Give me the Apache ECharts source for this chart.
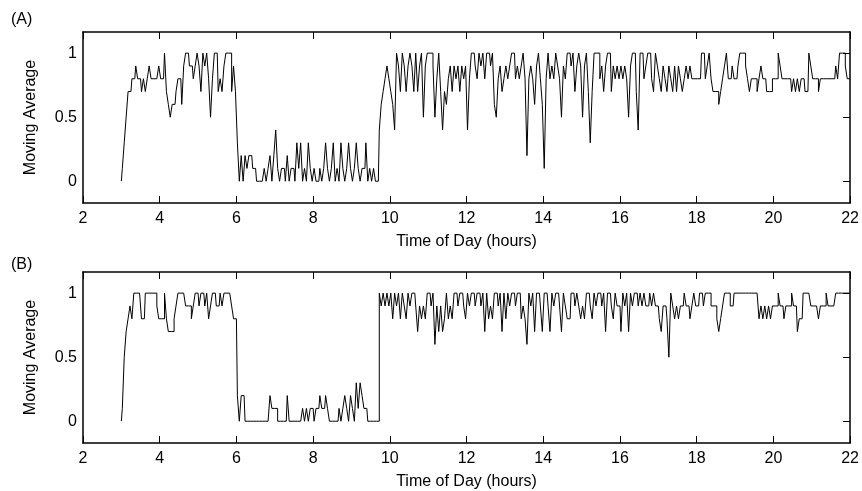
<!DOCTYPE html>
<html><head><meta charset="utf-8">
<script src="https://cdn.jsdelivr.net/npm/echarts@6/dist/echarts.min.js"></script>
<style>html,body{margin:0;padding:0;background:#fff}#c{width:862px;height:491px}</style>
</head><body><div id="c"></div>
<script>
// ---- data ----
const xTicks = [2, 4, 6, 8, 10, 12, 14, 16, 18, 20, 22];
const yTicks = [0, 0.5, 1];
const startHour = 3;      // first sample time (hours)
const stepHour = 0.05;    // sample spacing (hours)

// Panel (A) moving average, one value per 0.05 h from 3.00 to 22.00
const seriesA = [
  0,0.1,0.3,0.5,0.7,0.7,0.8,0.8,0.9,0.8,0.8,0.7,0.8,0.7,0.8,0.9,0.8,0.8,0.8,0.8,
  0.9,0.8,0.8,1.0,0.7,0.6,0.5,0.6,0.6,0.7,0.8,0.8,0.6,0.9,1.0,1.0,0.9,0.9,0.8,0.9,
  1.0,0.9,0.7,1.0,0.9,1.0,0.8,0.5,0.8,1.0,1.0,0.7,0.8,0.7,0.9,1.0,1.0,1.0,0.7,0.9,
  0.7,0.3,0,0.2,0,0.2,0.1,0.2,0.2,0.1,0.1,0,0,0,0,0.1,0,0.1,0.2,0,
  0.2,0.4,0.1,0,0.1,0.1,0,0.2,0,0.1,0.1,0,0.3,0.1,0.3,0,0.1,0,0.3,0.1,
  0,0.1,0,0,0.1,0,0.1,0.3,0.1,0,0.1,0.3,0,0.1,0,0.3,0.1,0,0.1,0.3,
  0.1,0,0.1,0.3,0.1,0,0.1,0.1,0.3,0,0.1,0,0.1,0,0,0.4,0.6,0.7,0.8,0.9,
  0.8,0.7,0.6,0.4,1.0,0.9,0.7,1.0,0.9,0.7,0.9,1.0,0.9,0.7,1.0,0.7,0.9,1.0,0.5,0.9,
  1.0,1.0,1.0,0.9,0.5,0.8,1.0,0.7,0.4,0.7,0.6,0.8,0.9,0.7,0.9,0.8,0.9,0.7,0.9,0.8,
  0.9,0.4,0.8,1.0,1.0,0.9,0.8,1.0,0.9,1.0,0.8,1.0,1.0,0.9,1.0,0.6,0.5,0.8,0.9,0.7,
  0.8,0.9,0.8,0.9,1.0,1.0,0.8,0.9,0.8,0.9,1.0,0.8,0.2,0.8,0.9,0.8,0.6,0.9,1.0,0.8,
  0.6,0.1,0.8,1.0,0.8,0.9,0.8,1.0,0.9,0.8,0.5,0.9,0.8,1.0,1.0,0.9,1.0,0.7,0.9,1.0,
  0.9,0.5,0.9,1.0,0.7,0.3,0.7,1.0,1.0,1.0,0.8,0.9,0.7,0.9,1.0,1.0,0.7,0.9,0.8,0.9,
  0.8,0.9,0.8,0.9,0.8,0.5,0.9,1.0,1.0,0.7,0.4,1.0,1.0,0.8,0.9,1.0,1.0,0.8,0.7,1.0,
  0.9,0.8,0.7,0.9,0.8,0.7,0.9,0.8,0.7,0.9,0.7,0.9,0.8,0.7,0.8,0.9,0.8,0.9,0.8,0.8,
  0.8,0.8,0.8,1.0,1.0,0.8,0.9,1.0,0.8,0.7,0.7,0.7,0.6,0.7,0.8,0.9,1.0,0.8,0.8,0.9,
  0.8,0.8,0.9,1.0,1.0,1.0,0.9,0.8,0.7,0.8,0.8,0.8,0.7,0.8,0.9,0.8,0.8,0.7,0.7,0.7,
  0.8,0.8,0.8,1.0,0.9,0.8,0.8,0.8,0.8,0.8,0.7,0.8,0.7,0.8,0.7,0.8,0.8,0.7,0.7,1.0,
  0.9,0.8,0.8,0.8,0.7,0.8,0.8,0.8,0.8,0.8,0.8,0.8,0.8,0.9,0.8,1.0,1.0,1.0,0.9,0.8,
  0.8
];

// Panel (B) moving average, same sampling
const seriesB = [
  0,0.1,0.5,0.7,0.8,0.9,0.8,1.0,1.0,1.0,1.0,0.8,0.8,1.0,1.0,1.0,1.0,1.0,1.0,0.9,
  0.8,0.8,0.8,1.0,0.8,0.7,0.7,0.7,0.8,0.9,1.0,1.0,1.0,1.0,0.9,0.9,0.9,0.8,0.9,1.0,
  1.0,0.9,1.0,1.0,0.9,1.0,0.8,0.9,1.0,1.0,0.9,0.9,1.0,0.9,1.0,1.0,1.0,1.0,0.9,0.8,
  0.8,0.2,0,0.2,0.2,0,0,0,0,0,0,0,0,0,0,0,0,0,0.2,0.1,
  0.1,0.1,0,0,0,0,0,0.2,0,0,0,0,0,0,0,0.1,0,0.1,0,0.1,
  0.1,0,0.1,0.1,0.2,0.1,0.1,0.2,0.1,0,0,0,0,0,0.1,0,0.1,0.2,0.1,0,
  0.2,0.1,0,0.3,0.1,0.3,0.2,0.1,0.1,0,0,0,0,0,0,1.0,0.9,1.0,0.9,1.0,
  0.9,1.0,0.8,1.0,0.9,1.0,0.8,1.0,0.9,0.8,1.0,0.9,1.0,1.0,0.9,0.7,0.9,0.8,0.9,0.8,
  1.0,1.0,0.9,1.0,0.6,0.9,0.7,0.9,0.7,0.8,1.0,0.8,0.9,0.8,1.0,1.0,0.9,1.0,1.0,0.9,
  0.8,1.0,0.9,1.0,1.0,0.9,1.0,1.0,0.9,1.0,0.7,1.0,0.8,0.9,0.8,1.0,1.0,0.9,1.0,0.7,
  1.0,0.8,1.0,0.9,1.0,1.0,0.9,1.0,1.0,0.8,0.9,0.8,0.6,1.0,0.9,1.0,0.7,1.0,1.0,0.9,
  0.7,1.0,1.0,0.9,0.7,1.0,0.9,1.0,1.0,0.9,0.7,1.0,0.9,0.8,0.8,1.0,1.0,0.9,1.0,0.9,
  0.8,0.9,0.8,1.0,1.0,0.9,0.8,1.0,0.9,1.0,1.0,0.9,1.0,0.7,1.0,1.0,0.9,0.8,1.0,0.9,
  0.9,0.7,1.0,0.9,1.0,0.7,1.0,0.9,1.0,1.0,0.9,1.0,0.9,1.0,0.9,0.9,1.0,0.9,1.0,0.9,
  0.9,0.8,0.7,0.9,0.9,0.8,0.5,1.0,0.9,0.8,0.9,0.8,0.9,0.9,1.0,0.9,0.9,0.8,0.9,1.0,
  0.9,0.9,1.0,1.0,0.9,1.0,1.0,1.0,0.9,0.9,0.9,0.8,0.7,0.8,0.9,1.0,1.0,1.0,0.9,0.9,
  1.0,1.0,1.0,1.0,1.0,1.0,1.0,1.0,1.0,1.0,1.0,1.0,1.0,0.8,0.9,0.8,0.9,0.8,0.9,0.8,
  0.9,0.9,0.9,1.0,0.9,0.9,0.8,0.9,0.9,0.9,1.0,0.9,0.9,0.7,0.8,0.8,1.0,1.0,1.0,1.0,
  0.9,0.9,0.9,0.9,0.8,0.9,0.9,0.9,1.0,0.9,0.9,0.9,0.9,1.0,1.0,1.0,1.0,1.0,1.0,1.0,
  1.0
];

// ---- chart ----
const FONT = '"Liberation Sans", Arial, sans-serif';
const toPairs = vals => vals.map((v, i) => [startHour + i * stepHour, v]);
const lineW = 1.5;

function xBottom(g) {
  return {
    type: 'value', gridIndex: g, position: 'bottom',
    min: xTicks[0], max: xTicks[xTicks.length - 1], interval: 2,
    name: 'Time of Day (hours)', nameLocation: 'middle', nameGap: 31,
    nameTextStyle: { fontSize: 16, color: '#000', fontFamily: FONT },
    axisLine: { show: true, onZero: false, lineStyle: { color: '#000', width: lineW } },
    axisTick: { show: true, inside: true, length: 7, lineStyle: { color: '#000', width: 1 } },
    axisLabel: { fontSize: 16, color: '#000', margin: 8, fontFamily: FONT },
    splitLine: { show: false }
  };
}
function xTop(g) {
  return {
    type: 'value', gridIndex: g, position: 'top',
    min: xTicks[0], max: xTicks[xTicks.length - 1], interval: 2,
    axisLine: { show: true, onZero: false, lineStyle: { color: '#000', width: lineW } },
    axisTick: { show: true, inside: true, length: 7, lineStyle: { color: '#000', width: 1 } },
    axisLabel: { show: false }, splitLine: { show: false }
  };
}
function yLeft(g) {
  return {
    type: 'value', gridIndex: g, position: 'left', min: -0.17, max: 1.165,
    name: 'Moving Average', nameLocation: 'middle', nameGap: 44, nameRotate: 90,
    nameTextStyle: { fontSize: 16, color: '#000', fontFamily: FONT },
    axisLine: { show: true, onZero: false, lineStyle: { color: '#000', width: lineW } },
    axisTick: { show: false },
    axisLabel: { customValues: yTicks, fontSize: 16, color: '#000', margin: 6, fontFamily: FONT },
    splitLine: { show: false }
  };
}
function yRight(g) {
  return {
    type: 'value', gridIndex: g, position: 'right', min: -0.17, max: 1.165,
    axisLine: { show: true, onZero: false, lineStyle: { color: '#000', width: lineW } },
    axisTick: { show: true, inside: true, length: 7, customValues: yTicks, lineStyle: { color: '#000', width: 1 } },
    axisLabel: { show: false }, splitLine: { show: false }
  };
}

const chart = echarts.init(document.getElementById('c'), null, { renderer: 'canvas' });
chart.setOption({
  animation: false,
  backgroundColor: '#fff',
  title: [
    { text: '(A)', left: 11, top: 12, padding: 0, textStyle: { fontSize: 16, fontWeight: 'normal', color: '#000', fontFamily: FONT } },
    { text: '(B)', left: 11, top: 257, padding: 0, textStyle: { fontSize: 16, fontWeight: 'normal', color: '#000', fontFamily: FONT } }
  ],
  grid: [
    { left: 83, top: 32, width: 768, height: 171 },
    { left: 83, top: 272, width: 768, height: 171 }
  ],
  xAxis: [xBottom(0), xTop(0), xBottom(1), xTop(1)],
  yAxis: [yLeft(0), yRight(0), yLeft(1), yRight(1)],
  series: [
    { type: 'line', xAxisIndex: 0, yAxisIndex: 0, data: toPairs(seriesA), showSymbol: false,
      step: 'middle', lineStyle: { color: '#000', width: 1 }, clip: true },
    { type: 'line', xAxisIndex: 2, yAxisIndex: 2, data: toPairs(seriesB), showSymbol: false,
      step: 'middle', lineStyle: { color: '#000', width: 1 }, clip: true }
  ]
});
</script>
</body></html>
